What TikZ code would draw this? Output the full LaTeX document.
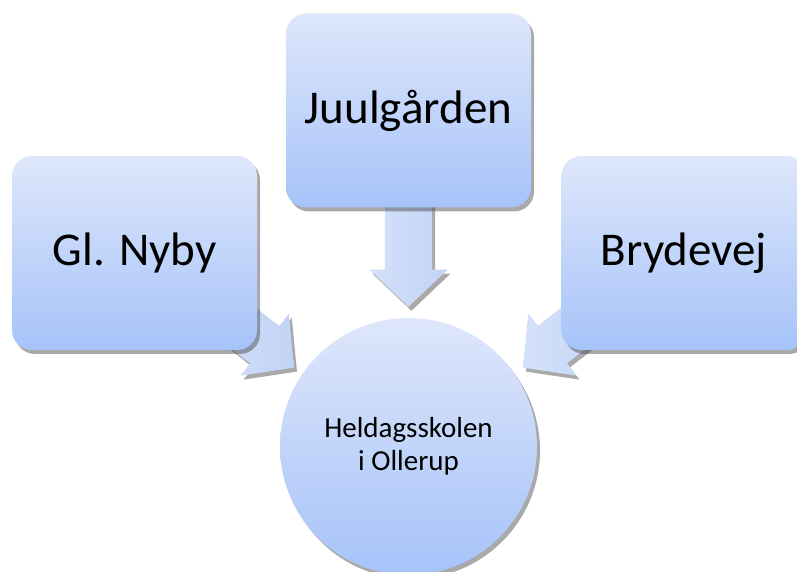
\documentclass[tikz,border=0pt]{standalone}
\usepackage{fontspec}
\setmainfont{Carlito}
\usetikzlibrary{shapes.arrows,shadows,calc}
\definecolor{topc}{HTML}{DEE7FB}
\definecolor{botc}{HTML}{A6C3F9}
\definecolor{arrtop}{HTML}{D3E0F9}
\definecolor{arrbot}{HTML}{C2D4F6}
\begin{document}
\begin{tikzpicture}[x=1pt,y=1pt,
  mshadow/.style={drop shadow={shadow xshift=3pt, shadow yshift=-4pt, fill=black!75, opacity=0.45}},
  sbox/.style={rectangle, rounded corners=20pt, minimum width=245pt, minimum height=194pt,
    top color=topc, bottom color=botc, draw=none, inner sep=0pt,
    font=\fontsize{47}{56}\selectfont, mshadow},
  hub/.style={circle, minimum size=257pt, inner sep=0pt, top color=topc, bottom color=botc,
    draw=none, align=center, font=\fontsize{29}{33}\selectfont, mshadow},
  barrow/.style={single arrow, minimum height=110pt, inner xsep=0pt, inner ysep=23.5pt,
    single arrow head extend=15.5pt, single arrow tip angle=93, draw=none, anchor=tip,
    left color=arrtop, right color=arrbot, mshadow}
]
\useasboundingbox (0,0) rectangle (797,572);
% block arrows (behind the boxes)
\node[barrow, rotate=-90] (adown) at (408.5,265) {};
\node[barrow, rotate=-38] (aleft) at (294.2,204.2) {};
\node[barrow, rotate=-142] (aright) at (522.8,204.2) {};
% boxes
\node[sbox] (juul) at (408.5,461.5) {Juulgården};
\node[sbox] (nyby) at (134.5,319) {Gl. Nyby};
\node[sbox] (bryde) at (684,319) {Brydevej};
% hub
\node[hub] (hub) at (408.5,125.5) {Heldagsskolen\\i Ollerup};
\end{tikzpicture}
\end{document}
